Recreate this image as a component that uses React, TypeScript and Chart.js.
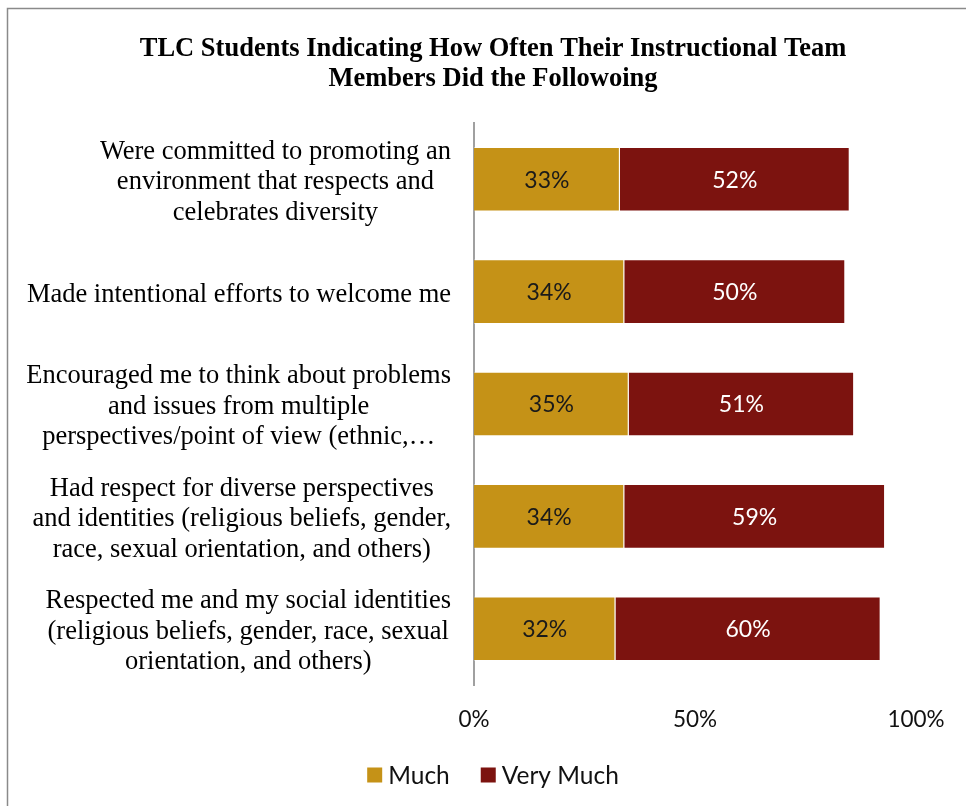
import React, { useEffect, useRef } from "react";
import { Chart, registerables } from "chart.js";

Chart.register(...registerables);

const titleLines = [
  "TLC Students Indicating How Often Their Instructional Team",
  "Members Did the Followoing",
];

const categories: string[][] = [
  ["Were committed to promoting an", "environment that respects and", "celebrates diversity"],
  ["Made intentional efforts to welcome me"],
  ["Encouraged me to think about problems", "and issues from multiple", "perspectives/point of view (ethnic,…"],
  ["Had respect for diverse perspectives", "and identities (religious beliefs, gender,", "race, sexual orientation, and others)"],
  ["Respected me and my social identities", "(religious beliefs, gender, race, sexual", "orientation, and others)"],
];

const seriesNames = ["Much", "Very Much"];
const muchValues = [33, 34, 35, 34, 32];
const veryMuchValues = [52, 50, 51, 59, 60];
const seriesColors = ["#C59217", "#7C130F"];
const labelColors = ["#1a1a1a", "#ffffff"];
const xTicks = [0, 50, 100];

const SERIF = "'Liberation Serif', 'Times New Roman', serif";
const SANS = "Lato, 'Noto Sans', sans-serif";

const decorPlugin = {
  id: "decor",
  beforeDraw(chart: any) {
    const { ctx, width, height } = chart;
    ctx.save();
    ctx.fillStyle = "#ffffff";
    ctx.fillRect(0, 0, width, height);
    ctx.strokeStyle = "#8a8a8a";
    ctx.lineWidth = 1.5;
    ctx.beginPath();
    ctx.moveTo(7.5, height);
    ctx.lineTo(7.5, 8.5);
    ctx.lineTo(width, 8.5);
    ctx.stroke();
    ctx.restore();
  },
  afterDraw(chart: any) {
    const { ctx } = chart;
    const yScale = chart.scales.y;
    const centerX = 493;
    ctx.save();
    // Title
    ctx.fillStyle = "#000";
    ctx.font = `bold 26.5px ${SERIF}`;
    ctx.textAlign = "center";
    ctx.textBaseline = "middle";
    titleLines.forEach((t, i) => ctx.fillText(t, centerX, 49 + i * 30));

    // Category labels: right-aligned block, lines centered within block
    ctx.font = `26.5px ${SERIF}`;
    const blockRight = 451;
    const lineH = 30.5;
    categories.forEach((lines, i) => {
      const cy = yScale.getPixelForValue(i) + 3;
      const maxW = Math.max(...lines.map((l) => ctx.measureText(l).width));
      const cx = blockRight - maxW / 2;
      const startY = cy - ((lines.length - 1) * lineH) / 2;
      lines.forEach((l, j) => ctx.fillText(l, cx, startY + j * lineH));
    });

    // Data labels
    ctx.font = `23px ${SANS}`;
    chart.data.datasets.forEach((ds: any, di: number) => {
      const meta = chart.getDatasetMeta(di);
      meta.data.forEach((bar: any, i: number) => {
        const p = bar.getProps(["x", "y", "base"], true);
        const mx = (p.x + p.base) / 2;
        ctx.fillStyle = labelColors[di];
        ctx.fillText(ds.data[i] + "%", mx, p.y + 1);
      });
    });

    // Legend
    ctx.font = `24.5px ${SANS}`;
    ctx.textAlign = "left";
    const box = 15;
    const gapText = 6;
    const gapItem = 31;
    const widths = seriesNames.map((n) => box + gapText + ctx.measureText(n).width);
    const total = widths.reduce((a, b) => a + b, 0) + gapItem * (seriesNames.length - 1);
    let x = centerX - total / 2;
    const ly = 775;
    seriesNames.forEach((n, i) => {
      ctx.fillStyle = seriesColors[i];
      ctx.fillRect(x, ly - box / 2, box, box);
      ctx.fillStyle = "#111";
      ctx.fillText(n, x + box + gapText, ly + 1);
      x += widths[i] + gapItem;
    });
    ctx.restore();
  },
};

export default function App() {
  const ref = useRef<HTMLCanvasElement | null>(null);
  useEffect(() => {
    document.body.style.margin = "0";
    const canvas = ref.current!;
    const chart = new Chart(canvas, {
      type: "bar",
      data: {
        labels: categories.map((c) => c.join(" ")),
        datasets: [
          {
            label: seriesNames[0],
            data: muchValues,
            backgroundColor: seriesColors[0],
            borderColor: "rgba(255,255,255,0.35)",
            borderWidth: 1,
            categoryPercentage: 1,
            barPercentage: 0.575,
          },
          {
            label: seriesNames[1],
            data: veryMuchValues,
            backgroundColor: seriesColors[1],
            borderColor: "rgba(255,255,255,0.35)",
            borderWidth: 1,
            categoryPercentage: 1,
            barPercentage: 0.575,
          },
        ],
      },
      options: {
        indexAxis: "y",
        responsive: false,
        animation: false,
        layout: { padding: { left: 474, right: 50, top: 123, bottom: 31 } },
        plugins: {
          legend: { display: false },
          title: { display: false },
          tooltip: { enabled: false },
        },
        scales: {
          x: {
            stacked: true,
            min: 0,
            max: 100,
            afterFit: (s: any) => {
              s.height = 90;
            },
            afterBuildTicks: (s: any) => {
              s.ticks = xTicks.map((v) => ({ value: v }));
            },
            grid: { display: false, drawTicks: false },
            border: { display: false },
            ticks: {
              padding: 21,
              color: "#111",
              font: { family: SANS, size: 22.5 },
              callback: (v: any) => v + "%",
            },
          },
          y: {
            stacked: true,
            afterFit: (s: any) => {
              s.width = 0;
            },
            grid: { display: false, drawTicks: false },
            border: { display: true, color: "#a0a0a0", width: 2 },
            ticks: { display: false },
          },
        },
      },
      plugins: [decorPlugin],
    });
    return () => chart.destroy();
  }, []);
  return (
    <div style={{ position: "absolute", left: 0, top: 0, width: 966, height: 806 }}>
      <canvas ref={ref} width={966} height={806} style={{ display: "block" }} />
    </div>
  );
}
